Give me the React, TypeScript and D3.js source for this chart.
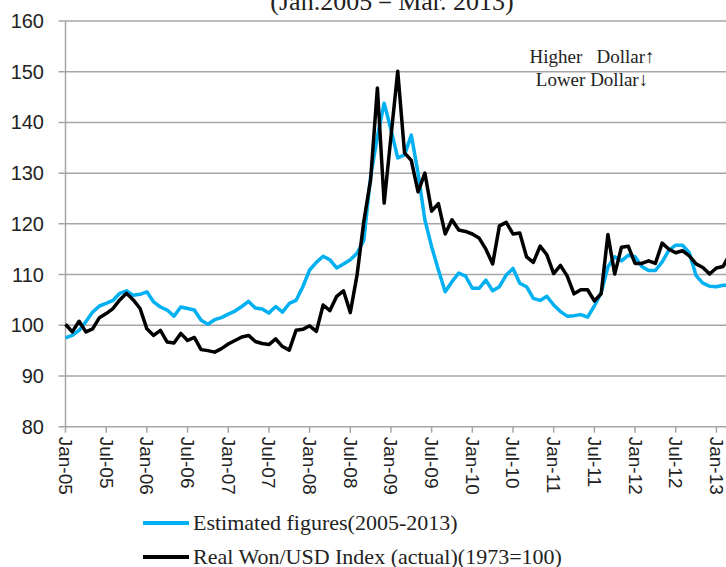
import React from "react";
import * as d3 from "d3";

// monthly observations, Jan-05 .. Mar-13 (99 months)
const months = d3.utcMonth.range(new Date(Date.UTC(2005, 0, 1)), new Date(Date.UTC(2013, 3, 1)));

const estimated = [
  97.5, 98, 99, 100.7, 102.6, 103.8, 104.3, 104.9, 106.3, 106.8, 105.9, 106.1,
  106.6, 104.6, 103.6, 103, 101.8, 103.6, 103.3, 103, 101, 100.2, 101.1, 101.5,
  102.2, 102.8, 103.7, 104.7, 103.4, 103.2, 102.4, 103.7, 102.6, 104.3, 104.9, 107.6,
  110.9, 112.4, 113.6, 112.9, 111.3, 112.1, 112.9, 114.2, 116.8, 129.3, 137.2, 143.8,
  138.6, 133, 133.6, 137.5, 130, 120.8, 115.5, 110.9, 106.6, 108.6, 110.3, 109.7,
  107.3, 107.3, 108.9, 106.8, 107.6, 109.9, 111.2, 108.3, 107.6, 105.3, 104.9, 105.7,
  104, 102.7, 101.8, 101.9, 102.1, 101.6, 103.8, 106.4, 111.5, 113.5, 112.7, 113.8,
  113.5, 111.6, 110.8, 110.8, 112.5, 114.8, 115.8, 115.8, 114.3, 109.8, 108.3, 107.7,
  107.6, 107.9, 107.9,
];

const actual = [
  100.2, 98.7, 100.8, 98.7, 99.3, 101.5, 102.3, 103.3, 105, 106.3, 105, 103.3,
  99.3, 98, 99, 96.7, 96.5, 98.4, 97, 97.6, 95.2, 95, 94.7, 95.4,
  96.3, 97, 97.7, 98, 96.8, 96.4, 96.2, 97.3, 95.8, 95.1, 99, 99.2,
  99.9, 98.8, 104, 102.9, 105.7, 106.8, 102.5, 109.9, 120.5, 128.7, 146.8, 124.1,
  137.2, 150.1, 134, 132.5, 126.3, 130, 122.5, 124, 118, 120.8, 118.8, 118.5,
  118, 117.2, 115, 112.1, 119.6, 120.3, 118, 118.2, 113.5, 112.4, 115.6, 113.9,
  110.2, 111.8, 109.7, 106.2, 107, 107, 104.8, 106.2, 117.9, 110.1, 115.4, 115.6,
  112.2, 112.2, 112.7, 112.2, 116.2, 115, 114.3, 114.7, 113.7, 112.1, 111.4, 110.1,
  111.3, 111.6, 114.1,
];

const yTicks = [80, 90, 100, 110, 120, 130, 140, 150, 160];
const seriesNames = ["Estimated figures(2005-2013)", "Real Won/USD Index (actual)(1973=100)"];
const seriesColors = ["#00b0f0", "#000000"];
const title = "(Jan.2005－Mar. 2013)";

const W = 726;
const H = 567;
const fmt = d3.utcFormat("%b-%y");
const serif = "'Times New Roman', 'Liberation Serif', serif";
const sans = "Arial, 'Liberation Sans', sans-serif";

export default function App() {
  const x = d3.scaleLinear().domain([0, 96]).range([65.5, 716.4]);
  const y = d3.scaleLinear().domain([80, 160]).range([426.7, 21]);
  const xTicks = months.map((m, i) => ({ m, i })).filter((d) => d.i % 6 === 0);

  const line = d3
    .line<number>()
    .x((_, i) => x(i))
    .y((d) => y(d));

  const left = x(0);

  return (
    <div style={{ position: "absolute", left: 0, top: 0 }}>
      <svg width={W} height={H} style={{ display: "block", background: "#fff" }}>
        <text x={392} y={9.5} fontFamily={serif} fontSize={26} textAnchor="middle" fill="#222">
          {title}
        </text>

        {/* grid */}
        {yTicks.map((t) => (
          <g key={t}>
            <line x1={left - 7} x2={W} y1={y(t)} y2={y(t)} stroke="#a6a6a6" strokeWidth={1.5} />
            <text
              x={44}
              y={y(t)}
              dy="0.35em"
              textAnchor="end"
              fontFamily={sans}
              fontSize={20}
              fill="#222"
            >
              {t}
            </text>
          </g>
        ))}
        <line x1={left} x2={left} y1={y(160)} y2={y(80)} stroke="#a6a6a6" strokeWidth={1.5} />

        {xTicks.map(({ m, i }) => (
          <g key={i}>
            <line x1={x(i)} x2={x(i)} y1={y(80)} y2={y(80) + 6} stroke="#a6a6a6" strokeWidth={1.5} />
            <text
              transform={`translate(${x(i)},${y(80) + 10}) rotate(90)`}
              dominantBaseline="central"
              fontFamily={sans}
              fontSize={19}
              fill="#222"
            >
              {fmt(m)}
            </text>
          </g>
        ))}

        <path d={line(estimated) ?? ""} fill="none" stroke={seriesColors[0]} strokeWidth={3.5} strokeLinejoin="round" />
        <path d={line(actual) ?? ""} fill="none" stroke={seriesColors[1]} strokeWidth={3.5} strokeLinejoin="round" />

        <text fontFamily={serif} fontSize={19} fill="#222" textAnchor="middle">
          <tspan x={592} y={63}>Higher&#160;&#160; Dollar↑</tspan>
          <tspan x={592} y={86}>Lower Dollar↓</tspan>
        </text>

        {/* legend */}
        {seriesNames.map((n, k) => (
          <g key={n} transform={`translate(143,${523 + k * 34})`}>
            <line x1={0} x2={46} y1={0} y2={0} stroke={seriesColors[k]} strokeWidth={4} />
            <text x={50} y={0} dy="0.33em" fontFamily={serif} fontSize={22} fill="#222">
              {n}
            </text>
          </g>
        ))}
      </svg>
    </div>
  );
}
